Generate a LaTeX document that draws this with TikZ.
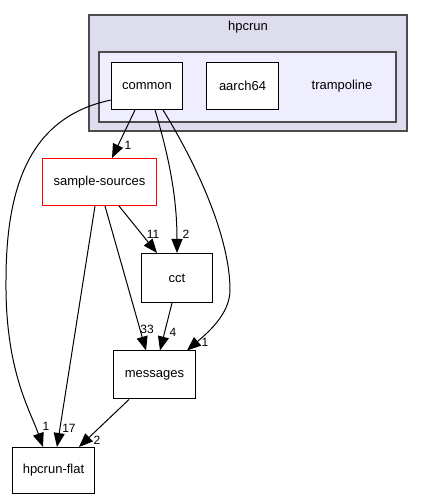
\documentclass[tikz,border=0pt]{standalone}
\usepackage{fontspec}
\setmainfont{Liberation Sans}
\usepackage{tikz}
\usetikzlibrary{arrows.meta}
\definecolor{outerbg}{HTML}{DDDDEE}
\definecolor{innerbg}{HTML}{EEEEFF}
\tikzstyle{tip} = [-{Triangle[length=14pt,width=11pt]},line width=1pt]
\tikzstyle{every edge} = [draw,tip]
\tikzstyle{dir} = [draw,fill=white,line width=1pt,minimum height=47pt,inner sep=0pt,font=\fontsize{13}{15}\selectfont]
\tikzstyle{cluster} = [draw=black!70,line width=1.2pt]
\tikzstyle{num} = [font=\fontsize{12}{14}\selectfont,inner sep=0pt]

\begin{document}
\begin{tikzpicture}[x=1pt,y=1pt]
\useasboundingbox (0,0) rectangle (423,500);

\draw[cluster,fill=outerbg] (89,369) rectangle (407,485);
\draw[cluster,fill=innerbg] (99,378) rectangle (396,448);
\node[font=\fontsize{13}{15}\selectfont] (hpc) at (248,473) {hpcrun};
\node[font=\fontsize{13}{15}\selectfont] (tramp) at (342,414) {trampoline};

\node[dir,minimum width=71pt] (common) at (147,414) {common};
\node[dir,minimum width=72pt] (aarch) at (242.5,414) {aarch64};
\node[dir,draw=red,minimum width=114pt] (sampl) at (99.5,318) {sample-sources};
\node[dir,minimum width=71pt,minimum height=49pt] (cct) at (177,222) {cct};
\node[dir,minimum width=82pt,minimum height=48pt] (msg) at (154.5,125) {messages};
\node[dir,minimum width=82pt,minimum height=46pt] (flat) at (53.5,29.5) {hpcrun-flat};

% edges out of common
\draw ([xshift=-12pt]common.south) edge node[num,pos=1,xshift=16pt,yshift=13pt] {1} ([xshift=12.5pt]sampl.north);
\draw[tip] (common.west |- 0,400) .. controls (40,385) and (6,330) .. (6,220)
  .. controls (5,130) and (30,90) .. ([xshift=-10.5pt]flat.north)
  node[num,pos=1,xshift=3pt,yshift=21pt] {1};
\draw[tip] ([xshift=8pt]common.south) .. controls (170,340) and (177,300) .. (cct.north)
  node[num,pos=1,xshift=9pt,yshift=19pt] {2};
\draw[tip] ([xshift=16pt]common.south) .. controls (200,330) and (230,260) .. (230,210)
  .. controls (230,185) and (205,165) .. ([xshift=32.5pt]msg.north)
  node[num,pos=1,xshift=18pt,yshift=8pt] {1};

% the rest
\draw ([xshift=19.5pt]sampl.south) edge node[num,pos=1,xshift=-4pt,yshift=19pt] {11} ([xshift=-20pt]cct.north);
\draw ([xshift=5.5pt]sampl.south) edge node[num,pos=1,xshift=1pt,yshift=21pt] {33} ([xshift=-8.5pt]msg.north);
\draw ([xshift=-4.5pt]sampl.south) edge node[num,pos=1,xshift=12pt,yshift=19pt] {17} ([xshift=3.5pt]flat.north);
\draw ([xshift=-5pt]cct.south) edge node[num,pos=1,xshift=13pt,yshift=18pt] {4} ([xshift=5.5pt]msg.north);
\draw ([xshift=-25.5pt]msg.south) edge node[num,pos=1,xshift=18pt,yshift=7pt] {2} ([xshift=25.5pt]flat.north);

\end{tikzpicture}
\end{document}
